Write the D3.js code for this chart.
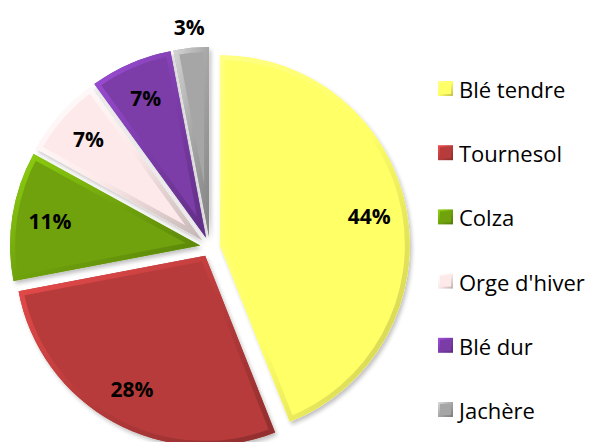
<!DOCTYPE html>
<meta charset="utf-8">
<script src="https://d3js.org/d3.v7.min.js"></script>
<style>
  body { margin: 0; background: #fff; }
</style>
<div id="chart"></div>
<script>

var categories = ["Blé tendre", "Tournesol", "Colza", "Orge d'hiver", "Blé dur", "Jachère"];
var shares     = [44, 28, 11, 7, 7, 3];
var labels     = ["44%", "28%", "11%", "7%", "7%", "3%"];
var colors     = ["#FFFF66", "#B83B3B", "#6FA20C", "#FDE9E9", "#7B3CA8", "#A6A6A6"];

var width = 595, height = 442;
var cx = 210, cy = 247, radius = 190, explode = 10;

var svg = d3.select("#chart").append("svg")
    .attr("width", width)
    .attr("height", height);

var defs = svg.append("defs");

// soft shadow under each slice
var shadow = defs.append("filter").attr("id", "shadow")
    .attr("x", "-10%").attr("y", "-10%").attr("width", "130%").attr("height", "130%");
shadow.append("feGaussianBlur").attr("in", "SourceAlpha").attr("stdDeviation", 2);
shadow.append("feOffset").attr("dx", 2).attr("dy", 3).attr("result", "off");
shadow.append("feComponentTransfer").append("feFuncA").attr("type", "linear").attr("slope", 0.25);
var merge = shadow.append("feMerge");
merge.append("feMergeNode");
merge.append("feMergeNode").attr("in", "SourceGraphic");

// bevel gradient per colour
colors.forEach(function(c, i) {
  var g = defs.append("linearGradient").attr("id", "bevel" + i)
      .attr("x1", "0%").attr("y1", "0%").attr("x2", "100%").attr("y2", "100%");
  g.append("stop").attr("offset", "0%").attr("stop-color", d3.rgb(c).brighter(0.7));
  g.append("stop").attr("offset", "50%").attr("stop-color", c);
  g.append("stop").attr("offset", "100%").attr("stop-color", d3.rgb(c).darker(0.7));
});

var pie = d3.pie().sort(null).value(function(d) { return d; });
var arcs = pie(shares);

var arc = d3.arc().innerRadius(0).outerRadius(radius);
var labelArc = d3.arc().innerRadius(radius * 0.8).outerRadius(radius * 0.8);
var outArc = d3.arc().innerRadius(radius * 1.11).outerRadius(radius * 1.11);

var g = svg.append("g").attr("transform", "translate(" + cx + "," + cy + ")");

var slice = g.selectAll(".slice")
    .data(arcs)
  .enter().append("g")
    .attr("class", "slice")
    .attr("transform", function(d) {
      var a = (d.startAngle + d.endAngle) / 2;
      return "translate(" + (Math.sin(a) * explode) + "," + (-Math.cos(a) * explode) + ")";
    });

slice.append("clipPath")
    .attr("id", function(d, i) { return "clip" + i; })
  .append("path")
    .attr("d", arc);

slice.append("path")
    .attr("d", arc)
    .attr("fill", function(d, i) { return colors[i]; })
    .attr("filter", "url(#shadow)");

slice.append("path")
    .attr("d", arc)
    .attr("fill", "none")
    .attr("stroke", function(d, i) { return "url(#bevel" + i + ")"; })
    .attr("stroke-width", 10)
    .attr("stroke-linejoin", "round")
    .attr("clip-path", function(d, i) { return "url(#clip" + i + ")"; });

slice.append("text")
    .attr("transform", function(d, i) {
      var p = (i === 5 ? outArc : labelArc).centroid(d);
      return "translate(" + p + ")";
    })
    .attr("text-anchor", "middle")
    .attr("dy", "0.36em")
    .style("font-family", "'Open Sans', Lato, sans-serif")
    .style("font-weight", "bold")
    .style("font-size", "21px")
    .style("fill", "#000")
    .text(function(d, i) { return labels[i]; });

// legend
var legendY = d3.scalePoint().domain(categories).range([90, 411]);

var legend = svg.selectAll(".legend")
    .data(categories)
  .enter().append("g")
    .attr("class", "legend")
    .attr("transform", function(d) { return "translate(438," + legendY(d) + ")"; });

legend.append("rect")
    .attr("x", 1)
    .attr("y", -8)
    .attr("width", 13)
    .attr("height", 13)
    .attr("fill", function(d, i) { return colors[i]; })
    .attr("stroke", function(d, i) { return "url(#bevel" + i + ")"; })
    .attr("stroke-width", 2);

legend.append("text")
    .attr("x", 21)
    .attr("y", 0)
    .attr("dy", "0.36em")
    .style("font-family", "'Open Sans', Lato, sans-serif")
    .style("font-size", "22px")
    .style("fill", "#000")
    .text(function(d) { return d; });

</script>
